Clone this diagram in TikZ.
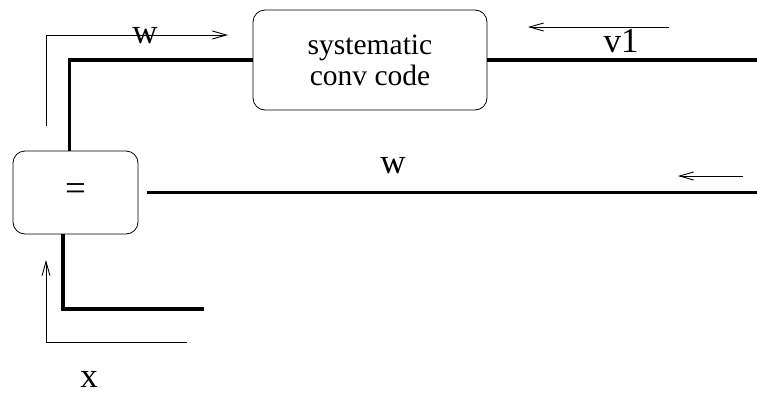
\documentclass[tikz,border=0pt]{standalone}
\usepackage{fontspec}
\setmainfont{Liberation Serif}
\newfontfamily\figfont{Liberation Serif}
\usetikzlibrary{arrows.meta}
\begin{document}
\begin{tikzpicture}[x=1pt,y=-1pt,
    block/.style={draw,rounded corners=12pt,line width=0.8pt,inner sep=0pt},
    wire/.style={line width=3.5pt},
    flow/.style={line width=0.9pt,-{Straight Barb[length=14pt,width=8pt]}},
    lbl/.style={font=\figfont\fontsize{35}{37}\selectfont,anchor=base,inner sep=0pt}]
    \useasboundingbox (0,0) rectangle (757,394);
    \node[block,minimum width=234pt,minimum height=100pt,align=center,
          font=\figfont\fontsize{29.5}{31}\selectfont] (code) at (370,60) {systematic\\conv code};
    \node[block,minimum width=125pt,minimum height=83pt,
          font=\figfont\fontsize{37}{37}\selectfont] (eq) at (75.5,192.5) {=};
    \coordinate (topend) at (757,60);
    \coordinate (midend) at (757,192.5);
    \coordinate (lowend) at (204,309);
    % thick wires
    \draw[wire] (code.east) -- (topend);
    \draw[wire] (code.west) -| ([xshift=-6pt]eq.north);
    \draw[wire] ([xshift=9pt]eq.east) -- (midend);
    \draw[wire] ([xshift=-12.5pt]eq.south) |- (lowend);
    % message directions
    \draw[flow] (46,126) |- (228,35);
    \draw[flow] (669,27) -- (528,27);
    \draw[flow] (743,176) -- (678,176);
    \draw[flow] (187,342) -| (46,260);
    \node[lbl] (wtop) at (145,43) {w};
    \node[lbl] (v1) at (621,52) {v1};
    \node[lbl] (wmid) at (393,173) {w};
    \node[lbl] (xin) at (89,387) {x};
\end{tikzpicture}
\end{document}
